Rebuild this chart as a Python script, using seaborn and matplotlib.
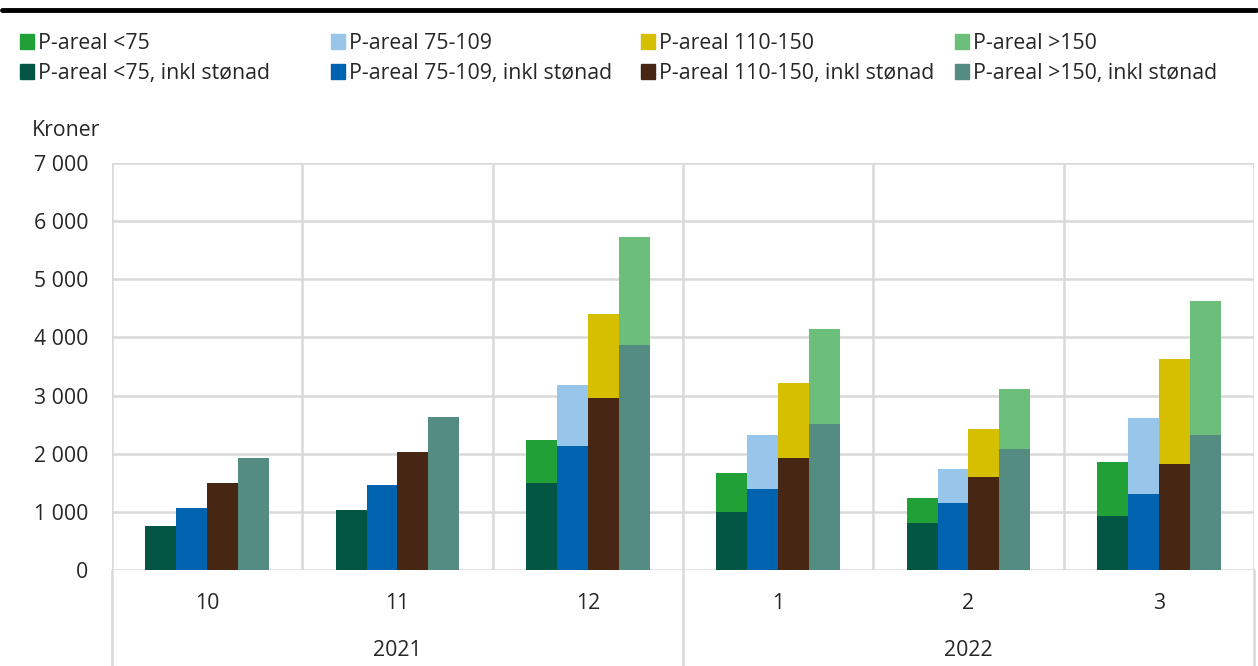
import matplotlib
matplotlib.use("Agg")
import matplotlib.pyplot as plt
import matplotlib.transforms as mtransforms
from matplotlib.lines import Line2D
from matplotlib.patches import Patch
from matplotlib.ticker import FuncFormatter, MultipleLocator
import pandas as pd
import seaborn as sns

# --- data (kroner per maaned) ---
maaneder = ["10", "11", "12", "1", "2", "3"]
aar = ["2021", "2022"]
kategorier = ["<75", "75-109", "110-150", ">150"]

# uten stoenad
p_areal_u75 = [760, 1040, 2240, 1660, 1240, 1860]
p_areal_75_109 = [1070, 1470, 3180, 2315, 1740, 2615]
p_areal_110_150 = [1490, 2035, 4405, 3215, 2420, 3630]
p_areal_o150 = [1925, 2640, 5725, 4145, 3120, 4630]

# inkl stoenad
inkl_u75 = [760, 1040, 1490, 995, 815, 925]
inkl_75_109 = [1070, 1470, 2125, 1385, 1155, 1300]
inkl_110_150 = [1490, 2035, 2950, 1930, 1605, 1815]
inkl_o150 = [1925, 2640, 3865, 2505, 2075, 2320]

farger_uten = ["#21a038", "#97c6ea", "#d6bf00", "#6bbf7b"]
farger_inkl = ["#035644", "#0063af", "#472614", "#558c81"]


def lang_tabell(serier):
    rader = []
    for kat, verdier in zip(kategorier, serier):
        for m, v in zip(maaneder, verdier):
            rader.append({"maaned": m, "kategori": kat, "verdi": v})
    return pd.DataFrame(rader)


df_uten = lang_tabell([p_areal_u75, p_areal_75_109, p_areal_110_150, p_areal_o150])
df_inkl = lang_tabell([inkl_u75, inkl_75_109, inkl_110_150, inkl_o150])

sns.set_style("white")
plt.rcParams["font.family"] = ["Open Sans", "DejaVu Sans"]
fs = 15.3

fig = plt.figure(figsize=(12.58, 6.66), dpi=100)
ax = fig.add_axes([112 / 1258, 1 - 570 / 666, (1254 - 112) / 1258, (570 - 163) / 666])

felles = dict(x="maaned", y="verdi", hue="kategori", order=maaneder,
              hue_order=kategorier, width=0.65, saturation=1, errorbar=None,
              legend=False, linewidth=0, ax=ax)
sns.barplot(data=df_uten, palette=farger_uten, **felles)
sns.barplot(data=df_inkl, palette=farger_inkl, **felles)

grid_farge = "#d9d9d9"
ax.set_ylim(0, 7000)
ax.set_xlim(-0.5, len(maaneder) - 0.5)
ax.yaxis.set_major_locator(MultipleLocator(1000))
ax.yaxis.set_major_formatter(FuncFormatter(lambda v, _: f"{int(v):,}".replace(",", " ")))
ax.yaxis.grid(True, color=grid_farge, linewidth=1.8)
ax.set_axisbelow(True)
for s in ax.spines.values():
    s.set_visible(False)
for i in range(len(maaneder) + 1):
    ax.axvline(i - 0.5, color=grid_farge, linewidth=1.8, zorder=0)

ax.set_xlabel("")
ax.set_ylabel("")
ax.tick_params(axis="both", length=0, labelsize=fs)
ax.tick_params(axis="x", pad=16.5)
ax.tick_params(axis="y", pad=17)

# aarsinndeling under aksen
trans = mtransforms.blended_transform_factory(ax.transData, ax.transAxes)
for x in [-0.5, 2.5, 5.5]:
    ax.plot([x, x], [0, -0.25], color=grid_farge, linewidth=1.8,
            transform=trans, clip_on=False)
for i, a in enumerate(aar):
    ax.text(1 + 3 * i, -0.197, a, transform=trans, ha="center", va="center", fontsize=fs)

fig.text(32 / 1258, 1 - 130 / 666, "Kroner", ha="left", va="center", fontsize=fs)

# tykk linje oeverst
fig.add_artist(Line2D([2 / 1258, 1256 / 1258], [1 - 10 / 666] * 2, color="black", linewidth=3.5))

# tegnforklaring, en kolonne per arealgruppe
kol_x = [20, 331, 641, 955]
for k, kat in enumerate(kategorier):
    handles = [Patch(color=farger_uten[k], label=f"P-areal {kat}"),
               Patch(color=farger_inkl[k], label=f"P-areal {kat}, inkl stønad")]
    fig.legend(handles=handles, loc="upper left", bbox_to_anchor=(kol_x[k] / 1258, 1 - 33 / 666),
               frameon=False, fontsize=fs, handlelength=0.65, handleheight=0.65,
               handletextpad=0.2, labelspacing=0.42, borderaxespad=0, borderpad=0)

fig.savefig("out.png", dpi=100)
